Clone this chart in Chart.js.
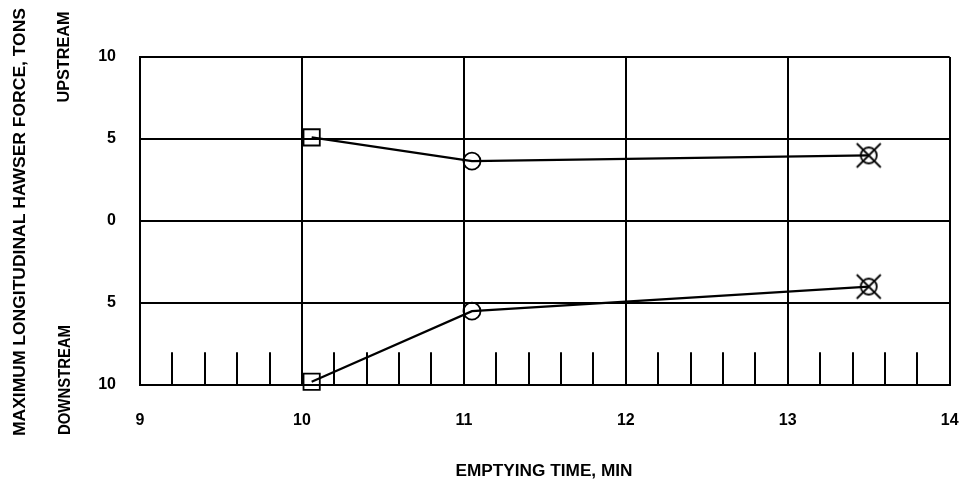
<!DOCTYPE html>
<html>
<head>
<meta charset="utf-8">
<script src="https://cdn.jsdelivr.net/npm/chart.js@4.4.0/dist/chart.umd.min.js"></script>
<style>
  html, body { margin: 0; padding: 0; background: #fff; }
  #wrap { width: 963px; height: 484px; }
</style>
</head>
<body>
<div id="wrap"><canvas id="grafico" width="963" height="484"></canvas></div>
<script>
// datos
const tiempos = [10.06, 11.05, 13.5];
const aguasArriba = [5.1, 3.65, 4.0];
const aguasAbajo = [-9.8, -5.5, -4.0];
const ticksX = [9, 10, 11, 12, 13, 14];
const ticksY = [-10, -5, 0, 5, 10];
const ticksMenores = [9.2, 9.4, 9.6, 9.8, 10.2, 10.4, 10.6, 10.8, 11.2, 11.4, 11.6, 11.8,
                      12.2, 12.4, 12.6, 12.8, 13.2, 13.4, 13.6, 13.8];

const FUENTE = 'bold 16px "Liberation Sans", Arial, sans-serif';

// circulo con X para el ultimo punto
const cruz = document.createElement('canvas');
cruz.width = 28; cruz.height = 28;
(function () {
    const c = cruz.getContext('2d');
    c.strokeStyle = '#000';
    c.lineWidth = 1.8;
    c.beginPath();
    c.arc(14, 14, 8, 0, Math.PI * 2);
    c.stroke();
    c.beginPath();
    c.moveTo(2, 2); c.lineTo(26, 26);
    c.moveTo(26, 2); c.lineTo(2, 26);
    c.stroke();
})();
const estilos = ['rect', 'circle', cruz];
const radios = [11.5, 8.5, 8];

function texto(ctx, t, x, y, largo, rotado) {
    ctx.save();
    ctx.font = FUENTE;
    ctx.fillStyle = '#000';
    ctx.textAlign = 'center';
    ctx.textBaseline = 'middle';
    ctx.translate(x, y);
    if (rotado) ctx.rotate(-Math.PI / 2);
    const w = ctx.measureText(t).width;
    ctx.scale(largo / w, 1);
    ctx.fillText(t, 0, 0);
    ctx.restore();
}

const extras = {
    id: 'extras',
    afterDraw(chart) {
        const ctx = chart.ctx;
        const sx = chart.scales.x, sy = chart.scales.y;
        ctx.save();
        ctx.strokeStyle = '#000';
        ctx.lineWidth = 2;
        ticksMenores.forEach(v => {
            const px = Math.round(sx.getPixelForValue(v));
            ctx.beginPath();
            ctx.moveTo(px, sy.getPixelForValue(-10));
            ctx.lineTo(px, sy.getPixelForValue(-8));
            ctx.stroke();
        });
        ctx.restore();
        texto(ctx, 'MAXIMUM LONGITUDINAL HAWSER FORCE, TONS', 21, 222, 428, true);
        texto(ctx, 'UPSTREAM', 65, 57, 91, true);
        texto(ctx, 'DOWNSTREAM', 66, 380, 110, true);
        texto(ctx, 'EMPTYING TIME, MIN', 544, 472, 177, false);
    }
};

function serie(ys) {
    return {
        data: tiempos.map((t, i) => ({ x: t, y: ys[i] })),
        showLine: true,
        clip: false,
        borderColor: '#000',
        borderWidth: 2.2,
        pointStyle: estilos,
        pointRadius: radios,
        pointBorderColor: '#000',
        pointBorderWidth: 1.8,
        pointBackgroundColor: 'rgba(0,0,0,0)'
    };
}

new Chart(document.getElementById('grafico').getContext('2d'), {
    type: 'scatter',
    data: { datasets: [serie(aguasArriba), serie(aguasAbajo)] },
    options: {
        responsive: false,
        animation: false,
        layout: { padding: { top: 57, right: 12, left: 0, bottom: 0 } },
        plugins: { legend: { display: false }, tooltip: { enabled: false } },
        scales: {
            x: {
                type: 'linear',
                min: 9, max: 14,
                afterBuildTicks: s => { s.ticks = ticksX.map(v => ({ value: v })); },
                afterFit: s => { s.height = 99; s.paddingLeft = 0; s.paddingRight = 0; },
                grid: { color: '#000', lineWidth: 2, drawTicks: false },
                border: { color: '#000', width: 2 },
                ticks: { color: '#000', font: { family: '"Liberation Sans", Arial', size: 16, weight: 'bold' }, padding: 26, maxRotation: 0 }
            },
            y: {
                min: -10, max: 10,
                afterBuildTicks: s => { s.ticks = ticksY.map(v => ({ value: v })); },
                afterFit: s => { s.width = 140; s.paddingTop = 0; s.paddingBottom = 0; },
                grid: { color: '#000', lineWidth: 2, drawTicks: false },
                border: { color: '#000', width: 2 },
                ticks: {
                    color: '#000',
                    font: { family: '"Liberation Sans", Arial', size: 16, weight: 'bold' },
                    padding: 24,
                    callback: v => Math.abs(v)
                }
            }
        }
    },
    plugins: [extras]
});
</script>
</body>
</html>
